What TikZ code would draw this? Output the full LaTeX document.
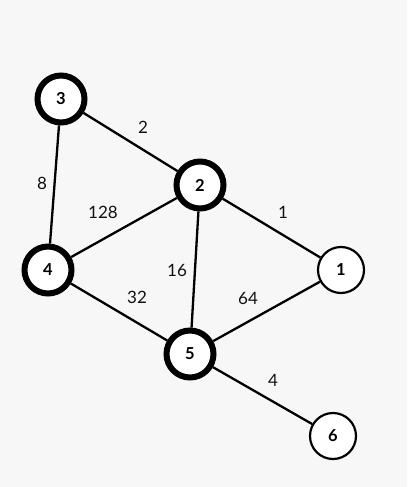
\documentclass[tikz,border=0pt]{standalone}
\usepackage{fontspec}
\setmainfont{Lato}
\definecolor{bg}{HTML}{F7F7F7}
\definecolor{txt}{HTML}{111111}
\begin{document}
\begin{tikzpicture}[x=1pt,y=-1pt,
  vtx/.style={circle,draw=black,fill=white,minimum size=46pt,inner sep=0pt,font=\fontsize{16.5}{18}\selectfont\bfseries},
  heavy/.style={vtx,line width=6pt,minimum size=47pt},
  light/.style={vtx,line width=2.2pt},
  edge/.style={line width=2.3pt,black},
  wlab/.style={text=txt,font=\fontsize{17}{19}\selectfont,inner sep=0pt}]
\fill[bg] (0,0) rectangle (407,487);
\useasboundingbox (0,0) rectangle (407,487);
\node[heavy] (n3) at (61,99) {3};
\node[heavy] (n2) at (200,185) {2};
\node[heavy] (n4) at (48,270) {4};
\node[light] (n1) at (341,270) {1};
\node[heavy] (n5) at (190,354) {5};
\node[light] (n6) at (333,436) {6};
\draw[edge] (n3) -- (n2);
\draw[edge] (n3) -- (n4);
\draw[edge] (n2) -- (n4);
\draw[edge] (n2) -- (n1);
\draw[edge] (n2) -- (n5);
\draw[edge] (n4) -- (n5);
\draw[edge] (n1) -- (n5);
\draw[edge] (n5) -- (n6);
\node[wlab] (l2) at (143,127) {2};
\node[wlab] (l8) at (42,183) {8};
\node[wlab] (l128) at (103,212) {128};
\node[wlab] (l1) at (283,212) {1};
\node[wlab] (l16) at (177,270) {16};
\node[wlab] (l32) at (137,297) {32};
\node[wlab] (l64) at (248,298) {64};
\node[wlab] (l4) at (273,380) {4};
\end{tikzpicture}
\end{document}
